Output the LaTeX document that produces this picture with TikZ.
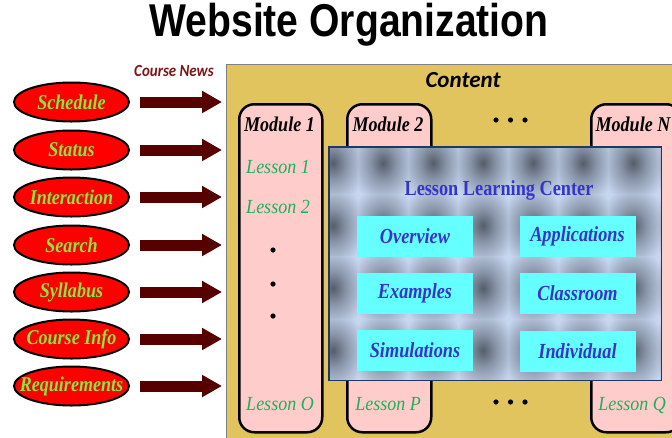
\documentclass[tikz,border=0pt]{standalone}
\usepackage{fontspec}
\setmainfont{Liberation Serif}
\newfontfamily\headfont{Liberation Sans}
\newfontfamily\slidefont{Carlito}
\usepackage{graphicx}
\usetikzlibrary{shapes.geometric,arrows.meta}

\definecolor{gold}{HTML}{E2C45F}
\definecolor{menugreen}{HTML}{84E83E}
\definecolor{arrowred}{HTML}{560000}
\definecolor{newsred}{HTML}{7A1616}
\definecolor{modpink}{HTML}{FFCCCC}
\definecolor{lessongreen}{HTML}{1FAF5A}
\definecolor{llcbg}{HTML}{C6D6EF}
\definecolor{tiledark}{HTML}{555D69}
\definecolor{tilemid}{HTML}{8894A8}
\definecolor{llcborder}{HTML}{1F3864}
\definecolor{llcblue}{HTML}{3535C8}
\definecolor{btncyan}{HTML}{66FFFF}

\pgfdeclareradialshading{llctile}{\pgfpoint{0bp}{0bp}}{color(0bp)=(tiledark); color(13bp)=(tilemid); color(33bp)=(llcbg); color(50bp)=(llcbg)}

% text squeezed sideways, as on the slide
\newcommand{\squeeze}[2][.86]{\scalebox{#1}[1]{#2}}
% menu text that does not widen its ellipse
\newcommand{\menutext}[1]{\makebox[0pt]{\squeeze{#1}}}

\begin{document}
\begin{tikzpicture}[x=1pt,y=-1pt]

	% page frame
	\useasboundingbox (0,0) rectangle (672,437);
	
	% styles
	\tikzstyle{menuitem}=[ellipse,draw=black,line width=2pt,fill=red,text=menugreen,minimum width=115pt,minimum height=39pt,inner sep=0pt,font=\fontsize{21}{21}\selectfont\bfseries\itshape];
	\tikzstyle{newsarrow}=[draw=arrowred,line width=11pt,-{Triangle[length=20pt 0 0,width=21pt 0 0]},shorten <=10pt,shorten >=3.5pt];
	\tikzstyle{module}=[draw=black,line width=2.5pt,fill=modpink,rounded corners=15pt,anchor=north west,inner sep=0pt,minimum height=328pt];
	\tikzstyle{modtitle}=[anchor=base,font=\fontsize{21}{21}\selectfont\bfseries\itshape];
	\tikzstyle{lessontext}=[anchor=base,text=lessongreen,font=\fontsize{20}{20}\selectfont\itshape];
	\tikzstyle{llcbutton}=[fill=btncyan,minimum width=116pt,minimum height=41pt,inner sep=0pt,text=llcblue,font=\fontsize{21.5}{21.5}\selectfont\bfseries\itshape];
	
	% title
	\node[anchor=base,font=\headfont\fontsize{46}{46}\selectfont\bfseries] (title) at (349,36) {\squeeze[.85]{Website Organization}};
	
	% content area
	\node[draw=gray,line width=1pt,fill=gold,anchor=north west,minimum width=460pt,minimum height=380pt,inner sep=0pt] (content) at (225.5,63.5) {};
	\node[anchor=base,font=\slidefont\fontsize{23}{23}\selectfont\bfseries\itshape] (contentlabel) at (463,87) {Content};
	
	% course news menu
	\node[anchor=base,text=newsred,font=\slidefont\fontsize{17}{17}\selectfont\bfseries\itshape] (news) at (174,76) {\squeeze[.88]{Course News}};
	
	\node[menuitem] (schedule) at (71.5,102) {\menutext{Schedule}};
	\node[menuitem] (status) at (71.5,150) {\menutext{Status}};
	\node[menuitem] (interaction) at (71.5,197) {\menutext{Interaction}};
	\node[menuitem] (search) at (71.5,245) {\menutext{Search}};
	\node[menuitem] (syllabus) at (71.5,292) {\menutext{Syllabus}};
	\node[menuitem] (courseinfo) at (71.5,339) {\menutext{Course Info}};
	\node[menuitem] (requirements) at (71.5,386) {\menutext{Requirements}};
	
	\draw[newsarrow] (schedule.east) -- (schedule.east -| content.west);
	\draw[newsarrow] (status.east) -- (status.east -| content.west);
	\draw[newsarrow] (interaction.east) -- (interaction.east -| content.west);
	\draw[newsarrow] (search.east) -- (search.east -| content.west);
	\draw[newsarrow] (syllabus.east) -- (syllabus.east -| content.west);
	\draw[newsarrow] (courseinfo.east) -- (courseinfo.east -| content.west);
	\draw[newsarrow] (requirements.east) -- (requirements.east -| content.west);
	
	% modules
	\node[module,minimum width=83pt] (mod1) at (238,103) {};
	\node[module,minimum width=84pt] (mod2) at (346,103) {};
	\node[module,minimum width=90pt] (modN) at (590,103) {};
	
	\node[modtitle] (mod1title) at (279.5,131) {\squeeze{Module 1}};
	\node[modtitle] (mod2title) at (388,131) {\squeeze{Module 2}};
	\node[modtitle] (modNtitle) at (633,131) {\squeeze{Module N}};
	
	\node[lessontext] (lesson1) at (278,173) {\squeeze[.9]{Lesson 1}};
	\node[lessontext] (lesson2) at (278,213) {\squeeze[.9]{Lesson 2}};
	\node[lessontext] (lessonO) at (280,410) {\squeeze[.9]{Lesson O}};
	\node[lessontext] (lessonP) at (388,410) {\squeeze[.9]{Lesson P}};
	\node[lessontext] (lessonQ) at (632,410) {\squeeze[.9]{Lesson Q}};
	
	% dots
	\fill (273,250) circle (2.6pt) (273,284) circle (2.6pt) (273,316) circle (2.6pt);
	\fill (496,120) circle (2.6pt) (510.5,120) circle (2.6pt) (525,120) circle (2.6pt);
	\fill (496,402) circle (2.6pt) (510.5,402) circle (2.6pt) (525,402) circle (2.6pt);
	
	% lesson learning center, with tiled backdrop
	\node[fill=llcbg,anchor=north west,minimum width=332pt,minimum height=233pt,inner sep=0pt] (llc) at (329,147) {};
	\begin{scope}
		\clip (llc.north west) rectangle (llc.south east);
		\foreach \tx in {333,383,...,683}{
			\foreach \ty in {163,225.5,288,350.5}{
				\shade[shading=llctile] (\tx-25,\ty-31.25) rectangle (\tx+25,\ty+31.25);
			}
		}
	\end{scope}
	\draw[draw=llcborder,line width=1.5pt] (llc.north west) rectangle (llc.south east);
	
	\node[anchor=base,text=llcblue,font=\fontsize{21.5}{21.5}\selectfont\bfseries] (llctitle) at (499,195) {\squeeze[.85]{Lesson Learning Center}};
	
	\node[llcbutton] (overview) at (415,236.5) {\squeeze[.85]{Overview}};
	\node[llcbutton] (applications) at (577.5,236.5) {\squeeze[.85]{Applications}};
	\node[llcbutton] (examples) at (415,293) {\squeeze[.85]{Examples}};
	\node[llcbutton] (classroom) at (577.5,293.5) {\squeeze[.85]{Classroom}};
	\node[llcbutton] (simulations) at (415,350) {\squeeze[.85]{Simulations}};
	\node[llcbutton] (individual) at (577.5,351) {\squeeze[.85]{Individual}};
	
\end{tikzpicture}
\end{document}
